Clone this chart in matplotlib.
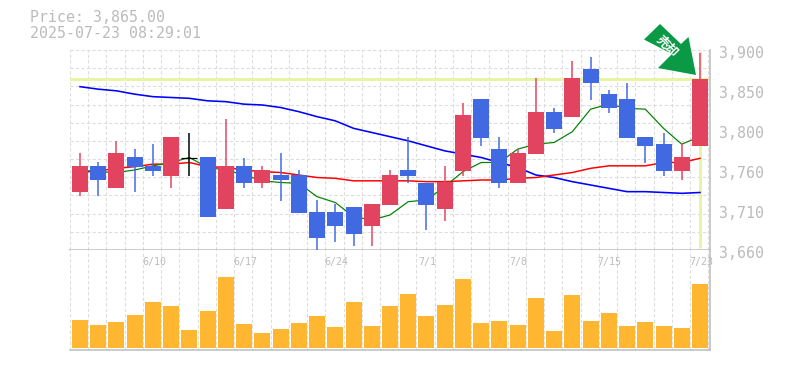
import matplotlib
matplotlib.use("Agg")
import matplotlib.pyplot as plt
from matplotlib.patches import Polygon
from matplotlib.transforms import Affine2D

title_price = "Price: 3,865.00"
title_time = "2025-07-23 08:29:01"
last_price = 3865

opens = [3730, 3761, 3735, 3771, 3761, 3749, 3771, 3771, 3709, 3761, 3740, 3750, 3750, 3706, 3706, 3711, 3689, 3714,
         3756, 3741, 3709, 3755, 3841, 3781, 3740, 3775, 3826, 3820, 3877, 3847, 3841, 3796, 3787, 3755, 3785]
highs = [3776, 3766, 3791, 3781, 3787, 3796, 3801, 3771, 3817, 3771, 3761, 3776, 3756, 3720, 3715, 3711, 3715, 3756,
         3796, 3741, 3761, 3836, 3841, 3796, 3781, 3866, 3831, 3887, 3892, 3852, 3861, 3796, 3801, 3788, 3896]
lows = [3725, 3725, 3735, 3730, 3749, 3735, 3749, 3700, 3709, 3735, 3735, 3719, 3705, 3660, 3670, 3665, 3665, 3714,
        3740, 3684, 3695, 3749, 3785, 3735, 3740, 3775, 3800, 3820, 3840, 3825, 3795, 3765, 3749, 3744, 3785]
closes = [3761, 3744, 3776, 3760, 3755, 3796, 3771, 3700, 3761, 3740, 3756, 3744, 3705, 3674, 3689, 3679, 3715, 3750,
          3749, 3714, 3741, 3822, 3795, 3740, 3776, 3826, 3805, 3866, 3860, 3830, 3795, 3785, 3755, 3771, 3865]
ma_short = [3756, 3754, 3753, 3756, 3761, 3765, 3771, 3759, 3756, 3750, 3743, 3741, 3740, 3724, 3717, 3700, 3696, 3702,
            3718, 3720, 3736, 3754, 3765, 3765, 3781, 3787, 3789, 3802, 3829, 3835, 3830, 3829, 3806, 3787, 3796]
ma_mid = [3753, 3755, 3758, 3760, 3763, 3763, 3765, 3760, 3759, 3756, 3754, 3753, 3750, 3747, 3746, 3743, 3743, 3743,
          3743, 3742, 3742, 3743, 3744, 3744, 3746, 3747, 3750, 3753, 3758, 3761, 3761, 3761, 3765, 3765, 3770]
ma_long = [3856, 3853, 3851, 3847, 3844, 3843, 3842, 3839, 3838, 3835, 3834, 3831, 3826, 3820, 3815, 3806, 3801, 3796,
           3791, 3785, 3779, 3775, 3771, 3765, 3759, 3750, 3747, 3742, 3738, 3734, 3730, 3730, 3729, 3728, 3729]
volumes = [28, 23, 26, 33, 46, 42, 18, 37, 71, 24, 15, 19, 25, 32, 21, 46, 22, 42,
           54, 32, 43, 69, 25, 27, 23, 50, 17, 53, 27, 35, 22, 26, 22, 20, 64]
date_positions = [4, 9, 14, 19, 24, 29, 34]
date_labels = ["6/10", "6/17", "6/24", "7/1", "7/8", "7/15", "7/23"]
price_ticks = [3900, 3852, 3804, 3756, 3708, 3660]
price_tick_labels = ["3,900", "3,850", "3,800", "3,760", "3,710", "3,660"]
signal_text = "売却"

W, H = 785, 370
UP = "#E24460"
DOWN = "#4169E1"
TXT = "#BBBBBB"
GRID = "#DDDDDD"
HILITE = "#E6F5A3"
px = 0.72  # one pixel in points at dpi 100

fig = plt.figure(figsize=(W / 100, H / 100), dpi=100, facecolor="white")
ax = fig.add_axes([70 / W, (H - 250) / H, 640 / W, 200 / H])
av = fig.add_axes([70 / W, (H - 350) / H, 640 / W, 100 / H], sharex=ax)

n = len(closes)
xs = list(range(n))
step = 18.235
xmin = -10 / step
xmax = xmin + 640 / step
ax.set_xlim(xmin, xmax)
ax.set_ylim(3660, 3900)
av.set_ylim(-2, 98)

grid_x = [xmin + k for k in range(n + 1)]
grid_y = [3660 + k * 240 / 11 for k in range(12)]
dash = (0, (3, 2))
for a in (ax, av):
    a.set_xticks(grid_x)
    a.grid(axis="x", color=GRID, lw=px * 1.1, linestyle=dash, zorder=0)
    a.set_yticks([])
    a.tick_params(length=0, labelbottom=False, labelleft=False)
    a.set_axisbelow(True)
    for s in ("top", "left"):
        a.spines[s].set_visible(False)
    for s in ("right", "bottom"):
        a.spines[s].set_color(TXT)
        a.spines[s].set_linewidth(px * 1.5)
ax.set_yticks(grid_y)
ax.grid(axis="y", color=GRID, lw=px * 1.1, linestyle=dash, zorder=0)

# last price highlight
ax.axhline(last_price, color=HILITE, lw=px * 3, zorder=1)
ax.vlines(xs[-1], 3662, 3899, color=HILITE, lw=px * 3, zorder=1)

# moving averages
ax.plot(xs, ma_long, color="#0000FF", lw=px * 1.6, zorder=2)
ax.plot(xs, ma_mid, color="#FF0000", lw=px * 1.5, zorder=2)
ax.plot(xs, ma_short, color="#008000", lw=px * 1.2, zorder=2)

# candles
bw = 16 / step
for i in xs:
    o, h, l, c = opens[i], highs[i], lows[i], closes[i]
    if o == c:
        col = "black"
        ax.hlines(c, i - bw / 2, i + bw / 2, color=col, lw=px * 1.2, zorder=3)
    else:
        col = UP if c > o else DOWN
        ax.bar(i, abs(c - o), bottom=min(o, c), width=bw, color=col, linewidth=0, zorder=4)
    ax.vlines(i, l, h, color=col, lw=px * 1.5, zorder=3)

# volume
av.bar(xs, volumes, width=bw, color="#FFB732", linewidth=0, zorder=3)

# labels
for v, t in zip(price_ticks, price_tick_labels):
    ax.annotate(t, xy=(1, v), xycoords=("axes fraction", "data"), xytext=(9, -3),
                textcoords="offset pixels", ha="left", va="center",
                family="DejaVu Sans Mono", fontsize=10.7, color=TXT, annotation_clip=False)
for p, t in zip(date_positions, date_labels):
    av.annotate(t, xy=(p, 1), xycoords=("data", "axes fraction"), xytext=(1, -12),
                textcoords="offset pixels", ha="center", va="center",
                family="DejaVu Sans Mono", fontsize=7.2, color=TXT, zorder=6, annotation_clip=False)
fig.text(30 / W, 1 - 18 / H, title_price, family="DejaVu Sans Mono", fontsize=10.7, color=TXT,
         ha="left", va="center")
fig.text(30 / W, 1 - 33 / H, title_time, family="DejaVu Sans Mono", fontsize=10.7, color=TXT,
         ha="left", va="center")

# signal arrow (figure decoration, pixel space)
to_fig = Affine2D().scale(1 / W, -1 / H).translate(0, 1) + fig.transFigure
arrow = Polygon([(644, 39.5), (660, 24), (681, 44), (688.5, 37), (696, 75), (658, 68), (672, 54)],
                closed=True, facecolor="#0A9945", edgecolor="none", transform=to_fig, zorder=10)
fig.add_artist(arrow)
fig.text(667 / W, 1 - 47 / H, signal_text, family="Noto Sans CJK JP", fontweight="bold", fontsize=9,
         color="white", rotation=-45, rotation_mode="anchor", ha="center", va="center", zorder=11)

fig.savefig("out.png", dpi=100)
